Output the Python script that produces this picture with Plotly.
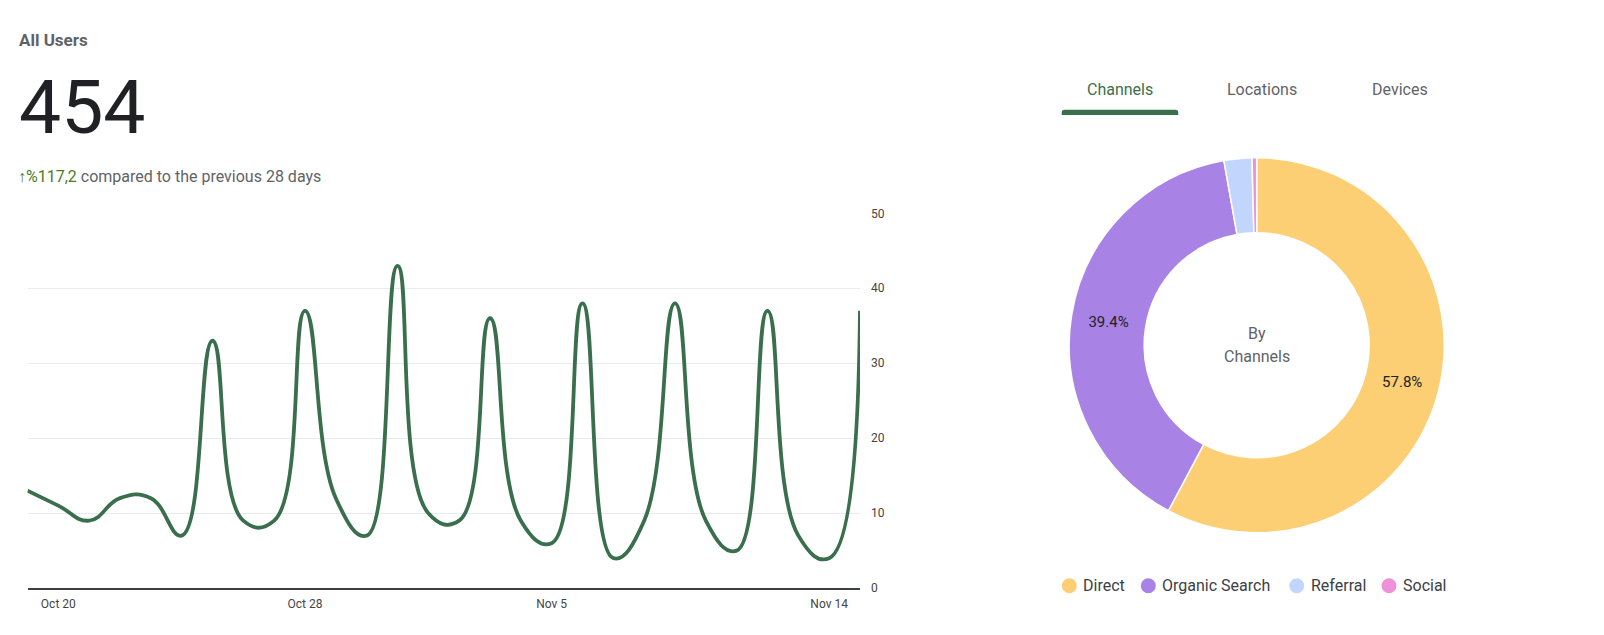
import pandas as pd
import plotly.graph_objects as go

# page body keeps an 8px margin; keep the figure small enough that the page does not scroll
PAGE_W, PAGE_H, OFF = 1604, 635, 8
W, H = PAGE_W - 2 * OFF, PAGE_H - 2 * OFF - 2
# vertical correction measured from earlier renders
VS, VO = 0.977, 6.5

# daily users, Oct 19 - Nov 15
dates = pd.date_range("2024-10-19", "2024-11-15").strftime("%Y-%m-%d").tolist()
users = [13, 11, 9, 12, 12, 7, 33, 9, 9, 37, 12, 7, 43,
         10, 9, 36, 9, 6, 38, 4, 9, 38, 9, 5, 37, 7, 4, 37]

tick_dates = ["2024-10-20", "2024-10-28", "2024-11-05", "2024-11-14"]
tick_text = ["Oct 20", "Oct 28", "Nov 5", "Nov 14"]
y_ticks = [0, 10, 20, 30, 40, 50]

channels = ["Direct", "Organic Search", "Referral", "Social"]
channel_users = [289, 197, 12, 2]
channel_colors = ["#fdcf74", "#a982e6", "#c2d6fd", "#ee91d8"]

tabs = ["Channels", "Locations", "Devices"]

GREEN = "#3a6f4d"
GREY = "#5f6368"
DARK = "#202124"
FONT = "Roboto"


def px(x):
    return (x - OFF) / W


def py(y):
    t = (y - VO) / VS
    return 1 - (t - OFF) / H


fig = go.Figure()

fig.add_trace(go.Scatter(
    x=dates, y=users, mode="lines",
    line=dict(color=GREEN, width=3.8, shape="spline", smoothing=1.3),
    showlegend=False, hovertemplate="%{x|%b %d}: %{y}<extra></extra>"))

# donut: centre (1256.7, 345), outer radius 187
pie_h = (532 - 157.7) / VS
fig.add_trace(go.Pie(
    labels=channels, values=channel_users, hole=0.6,
    sort=False, direction="clockwise", rotation=0,
    marker=dict(colors=channel_colors, line=dict(color="white", width=1.5)),
    texttemplate=["%{percent:.1%}", "%{percent:.1%}", "", ""],
    textposition="inside", insidetextorientation="horizontal",
    textfont=dict(family=FONT, size=15, color=DARK),
    domain=dict(x=[px(1256.7 - pie_h / 2), px(1256.7 + pie_h / 2)], y=[py(532), py(157.7)]),
    showlegend=False))

# active tab underline
ux0, ux1, uy0, uy1, ur = 1061.7, 1178.3, 110, 115, 3
shapes = [dict(
    type="path", xref="paper", yref="paper", fillcolor=GREEN, line=dict(width=0),
    path=(f"M {px(ux0)},{py(uy1)} L {px(ux0)},{py(uy0 + ur)} "
          f"Q {px(ux0)},{py(uy0)} {px(ux0 + ur)},{py(uy0)} "
          f"L {px(ux1 - ur)},{py(uy0)} Q {px(ux1)},{py(uy0)} {px(ux1)},{py(uy0 + ur)} "
          f"L {px(ux1)},{py(uy1)} Z"))]

annotations = [
    dict(text="<b>All Users</b>", x=px(17), y=py(40), xanchor="left",
         font=dict(family=FONT, size=17, color=GREY)),
    dict(text="454", x=px(16.5), y=py(107), xanchor="left",
         font=dict(family=FONT, size=75, color=DARK)),
    dict(text='<span style="color:#4d7c1d"><b>↑</b>%117,2</span> compared to the previous 28 days',
         x=px(16), y=py(176), xanchor="left",
         font=dict(family=FONT, size=16, color=GREY)),
    dict(text="By", x=px(1256.7), y=py(333), xanchor="center",
         font=dict(family=FONT, size=16, color=GREY)),
    dict(text="Channels", x=px(1256.7), y=py(356), xanchor="center",
         font=dict(family=FONT, size=16, color=GREY)),
]

tab_x = [1120, 1262.3, 1400]
for i, name in enumerate(tabs):
    annotations.append(dict(text=name, x=px(tab_x[i]), y=py(90), xanchor="center",
                            font=dict(family=FONT, size=16, color=GREEN if i == 0 else GREY)))

legend_x = [1069.3, 1148.3, 1296.7, 1389]
for i, name in enumerate(channels):
    shapes.append(dict(type="circle", xref="paper", yref="paper",
                       xsizemode="pixel", ysizemode="pixel",
                       xanchor=px(legend_x[i]), yanchor=py(585),
                       x0=-7.5, x1=7.5, y0=-7.5, y1=7.5,
                       fillcolor=channel_colors[i], line=dict(width=0)))
    annotations.append(dict(text=name, x=px(legend_x[i] + 12), y=py(585), xanchor="left",
                            font=dict(family=FONT, size=16, color="#3c4043")))

for a in annotations:
    a.update(xref="paper", yref="paper", showarrow=False, yanchor="middle")

fig.update_layout(
    width=W, height=H, margin=dict(l=0, r=0, t=0, b=0),
    paper_bgcolor="white", plot_bgcolor="rgba(0,0,0,0)",
    font=dict(family=FONT, color=GREY),
    shapes=shapes, annotations=annotations,
    xaxis=dict(domain=[px(27.5), px(860)], type="date",
               range=[dates[0], dates[-1]],
               tickvals=tick_dates, ticktext=tick_text,
               showgrid=False, zeroline=False,
               showline=True, linecolor="#3c4043", linewidth=1.5,
               tickfont=dict(size=12, color="#444"), ticklabelstandoff=4),
    yaxis=dict(domain=[py(587.3), py(212.5)], range=[0, 50.1], side="right",
               tickvals=y_ticks, showgrid=True, gridcolor="#e8eaed", gridwidth=1,
               zeroline=False, showline=False,
               tickfont=dict(size=12, color="#444"), ticklabelstandoff=10),
)

fig.write_html("out.html")
